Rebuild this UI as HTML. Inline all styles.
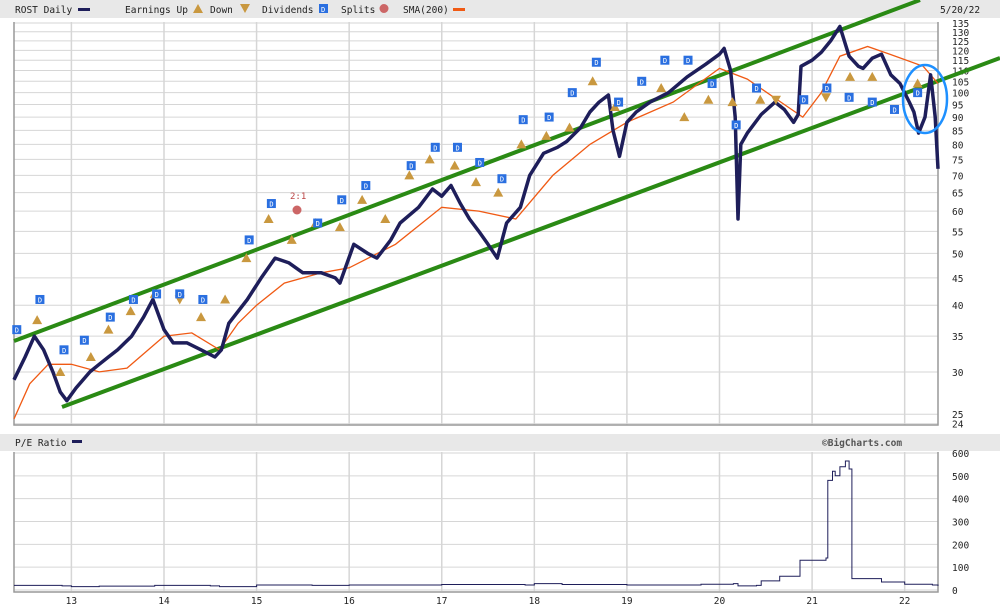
<!DOCTYPE html>
<html><head><meta charset="utf-8"><style>
body{margin:0;background:#fff;width:1000px;height:608px;overflow:hidden;font-family:"DejaVu Sans Mono","Liberation Mono",monospace;}
svg text{font-family:"DejaVu Sans Mono","Liberation Mono",monospace;font-size:9.5px;fill:#222;}
</style></head><body>
<svg id="chart" width="1000" height="608" xmlns="http://www.w3.org/2000/svg">
<rect x="0" y="0" width="1000" height="18" fill="#e8e8e8"/>
<g>
<text x="15" y="13">ROST Daily</text><rect x="78" y="8" width="12" height="3" fill="#1e1e5a"/>
<text x="125" y="13">Earnings Up</text><path d="M193,13 l5,-9 l5,9z" fill="#c9983f"/>
<text x="210" y="13">Down</text><path d="M240,4 l5,9 l5,-9z" fill="#c9983f"/>
<text x="262" y="13">Dividends</text><rect x="319" y="4" width="9" height="9" fill="#2a6fe0"/><text x="321" y="12" style="font-size:7px;fill:#fff">D</text>
<text x="341" y="13">Splits</text><circle cx="384" cy="8.5" r="4.5" fill="#c66"/>
<text x="403" y="13">SMA(200)</text><rect x="453" y="8" width="12" height="3" fill="#f05a14"/>
<text x="940" y="13">5/20/22</text>
</g>
<rect x="0" y="434" width="1000" height="17" fill="#e8e8e8"/>
<text x="15" y="446">P/E Ratio</text><rect x="72" y="440" width="10" height="3" fill="#1e1e5a"/>
<text x="822" y="446" style="font-weight:bold;fill:#555">©BigCharts.com</text>
<g id="grid"></g><g id="main"></g><g id="pe"></g>
</svg>
<script>
const priceTicks=[24,25,30,35,40,45,50,55,60,65,70,75,80,85,90,95,100,105,110,115,120,125,130,135];
const yearTicks=[13,14,15,16,17,18,19,20,21,22];
const peTicks=[0,100,200,300,400,500,600];
const priceYears=[12.38,12.5,12.6,12.7,12.8,12.88,12.95,13.05,13.2,13.3,13.4,13.5,13.65,13.78,13.88,14.0,14.1,14.25,14.4,14.55,14.62,14.7,14.9,15.05,15.2,15.35,15.5,15.7,15.85,15.9,16.05,16.2,16.3,16.45,16.55,16.75,16.9,17.0,17.1,17.2,17.3,17.4,17.5,17.6,17.7,17.85,17.95,18.1,18.25,18.35,18.5,18.6,18.7,18.8,18.85,18.92,19.0,19.1,19.25,19.45,19.65,19.85,20.0,20.05,20.12,20.17,20.2,20.23,20.3,20.45,20.6,20.7,20.8,20.85,20.88,21.0,21.1,21.2,21.3,21.4,21.5,21.55,21.65,21.75,21.85,21.95,22.05,22.1,22.15,22.22,22.28,22.33,22.36];
const priceVals=[29,32,35,33,30,27.5,26.5,28,30,31,32,33,35,38,41,36,34,34,33,32,33,37,41,45,49,48,46,46,45,44,52,50,49,53,57,61,66,64,67,62,58,55,52,49,57,61,70,77,79,81,86,92,96,99,85,76,88,92,96,100,107,113,118,121,110,90,58,80,84,91,96,93,88,91,112,115,119,125,133,117,112,111,116,118,108,104,96,92,84,90,108,90,72];
const smaYears=[12.38,12.55,12.75,13.0,13.3,13.6,14.0,14.3,14.6,14.8,15.0,15.3,15.7,16.0,16.5,17.0,17.4,17.8,18.2,18.6,19.0,19.5,20.0,20.3,20.7,20.9,21.1,21.3,21.6,21.9,22.2,22.36];
const smaVals=[24.5,28.5,31,31,30,30.5,35,35.5,33,37,40,44,46,47,52,61,60,58,70,80,88,96,111,106,95,90,100,117,122,117,112,104];
const divYears=[12.41,12.66,12.92,13.14,13.42,13.67,13.92,14.17,14.42,14.92,15.16,15.66,15.92,16.18,16.67,16.93,17.17,17.41,17.65,17.88,18.16,18.41,18.67,18.91,19.16,19.41,19.66,19.92,20.18,20.4,20.91,21.16,21.4,21.65,21.89,22.14];
const divVals=[36,41,33,34.4,38,41,42,42,41,53,62,57,63,67,73,79,79,74,69,89,90,100,114,96,105,115,115,104,87,102,97,102,98,96,93,100];
const upYears=[12.63,12.88,13.21,13.4,13.64,13.9,14.4,14.66,14.89,15.13,15.38,15.64,15.9,16.14,16.39,16.65,16.87,17.14,17.37,17.61,17.86,18.13,18.38,18.63,18.87,19.37,19.62,19.88,20.14,20.44,21.41,21.65,22.14];
const upVals=[37.5,30,32,36,39,42,38,41,49,58,53,57,56,63,58,70,75,73,68,65,80,83,86,105,94,102,90,97,96,97,107,107,104];
const downYears=[14.17,20.61,21.15];
const downVals=[41,97,98];
const peYears=[12.38,12.9,13.0,13.3,13.9,14.5,14.6,15.0,15.6,16.0,17.0,17.9,18.0,18.3,19.0,19.8,20.15,20.2,20.4,20.45,20.65,20.85,20.87,21.15,21.17,21.22,21.25,21.3,21.36,21.4,21.43,21.7,21.75,21.95,22.0,22.3,22.36];
const peVals=[20,18,15,17,20,18,15,22,20,22,24,22,28,24,22,25,28,18,20,40,60,60,130,140,480,520,500,540,565,530,50,50,35,35,25,22,18];
const NS='http://www.w3.org/2000/svg';
const X0=14,X1=938;const xs=y=>X0+(y-12.38)*(X1-X0)/(22.36-12.38);
const ys=p=>23+(Math.log(135)-Math.log(p))*232;
const pys=v=>590-v*(137/600);
function mk(par,tag,at){const e=document.createElementNS(NS,tag);for(const k in at)e.setAttribute(k,at[k]);par.appendChild(e);return e;}
const grid=document.getElementById('grid'),main=document.getElementById('main'),pe=document.getElementById('pe');
priceTicks.forEach(t=>{const y=ys(t);
 const l=mk(grid,'line',{x1:X0,x2:X1,y1:y,y2:y,stroke:'#d6d6d6','stroke-width':1});
 
 
 const tx=mk(grid,'text',{x:952,y:y+4});tx.textContent=t;
 
 });
yearTicks.forEach(t=>{const x=xs(t);
 const l=mk(grid,'line',{x1:x,x2:x,y1:22,y2:425,stroke:'#d6d6d6','stroke-width':1.5});
 
 
 const l2=mk(grid,'line',{x1:x,x2:x,y1:452,y2:591,stroke:'#d6d6d6','stroke-width':1.5});
 
 
 const tx=mk(grid,'text',{x:x,y:604,'text-anchor':'middle'});tx.textContent=t;
 
 });
peTicks.forEach(t=>{const y=pys(t);
 const l=mk(grid,'line',{x1:X0,x2:X1,y1:y,y2:y,stroke:'#d6d6d6','stroke-width':1});
 
 
 const tx=mk(grid,'text',{x:952,y:y+4});tx.textContent=t;
 
 });
const fr=mk(grid,'path',{d:`M${X0},22 V425 H${X1} V22`,fill:'none',stroke:'#999','stroke-width':1.5});


const fr2=mk(grid,'path',{d:`M${X0},452 V592 H${X1} V452`,fill:'none',stroke:'#999','stroke-width':1.5});


const c1=mk(main,'line',{x1:14,y1:341,x2:920,y2:0,stroke:'#2a8a14','stroke-width':4});


const c2=mk(main,'line',{x1:62,y1:407,x2:1000,y2:58,stroke:'#2a8a14','stroke-width':4});


const sma=mk(main,'path',{d:smaYears.map((y,i)=>(i?'L':'M')+xs(y).toFixed(1)+','+ys(smaVals[i]).toFixed(1)).join(''),fill:'none',stroke:'#f05a14','stroke-width':1.3});


const pl=mk(main,'path',{d:priceYears.map((y,i)=>(i?'L':'M')+xs(y).toFixed(1)+','+ys(priceVals[i]).toFixed(1)).join(''),fill:'none',stroke:'#1e1e5a','stroke-width':3.5,'stroke-linejoin':'round'});


upYears.forEach((y,i)=>{const x=xs(y),yy=ys(upVals[i]);
 const t=mk(main,'path',{d:`M${x-5},${yy+4} l5,-9 l5,9z`,fill:'#c9983f'});
 
 });
downYears.forEach((y,i)=>{const x=xs(y),yy=ys(downVals[i]);
 const t=mk(main,'path',{d:`M${x-5},${yy-4} l5,9 l5,-9z`,fill:'#c9983f'});
 
 });
divYears.forEach((y,i)=>{const x=xs(y),yy=ys(divVals[i]);
 const r=mk(main,'rect',{x:x-4.5,y:yy-4.5,width:9,height:9,fill:'#2a6fe0'});
 
 
 const t=mk(main,'text',{x:x-2,y:yy+3,style:'font-size:7px;fill:#fff'});t.textContent='D';});
const sp=mk(main,'circle',{cx:297,cy:210,r:4.5,fill:'#c66'});


const spt=mk(main,'text',{x:290,y:199,style:'font-size:9px;fill:#b44'});spt.textContent='2:1';


const el=mk(main,'ellipse',{cx:925,cy:99,rx:22,ry:34,fill:'none',stroke:'#1e90ff','stroke-width':2.5});


let d='';peYears.forEach((y,i)=>{const x=xs(y).toFixed(1),yy=pys(peVals[i]).toFixed(1);d+=(i?'H'+x+'V'+yy:'M'+x+','+yy);});
const pp=mk(pe,'path',{d:d,fill:'none',stroke:'#1e1e5a','stroke-width':1});


</script>
</body></html>
